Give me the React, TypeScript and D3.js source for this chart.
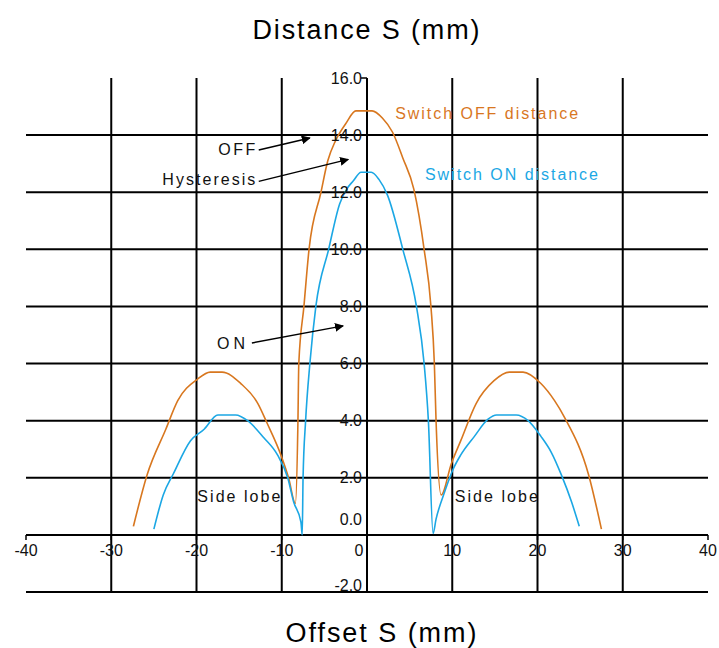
import React from "react";
import * as d3 from "d3";

// ---- data ----
const offOffset = [-27.4,-25.8,-23.6,-22.2,-19.9,-18.4,-17.0,-14.8,-12.8,-11.7,-10.1,-9.2,-8.4,-8.1,-8.0,-7.4,-6.8,-5.4,-4.6,-3.7,-2.5,-1.3,0.6,1.8,3.0,4.2,5.5,6.7,7.5,7.9,8.1,8.7,9.9,11.0,12.8,14.9,16.7,18.3,20.4,22.0,23.2,26.0,27.5];
const offDist =   [0.3,2.1,3.7,4.7,5.45,5.7,5.7,5.3,4.6,3.9,2.8,2.0,1.1,4.0,6.0,8.0,10.0,12.0,13.1,13.8,14.4,14.85,14.85,14.6,14.1,13.2,12.1,10.0,8.0,6.0,4.0,1.4,2.5,3.3,4.6,5.4,5.7,5.7,5.3,4.7,4.1,2.1,0.2];

const onOffset = [-25.0,-23.9,-22.7,-20.7,-19.1,-17.5,-15.4,-14.0,-12.1,-10.5,-9.3,-8.6,-7.75,-7.6,-7.5,-7.2,-6.7,-6.0,-4.5,-3.2,-2.4,-1.6,-0.7,0.5,1.4,2.4,4.2,5.8,6.7,7.2,7.75,8.1,9.1,10.1,11.0,12.6,14.2,15.2,17.5,18.9,20.4,21.6,22.8,24.0,24.9];
const onDist =   [0.2,1.4,2.15,3.3,3.7,4.2,4.2,4.0,3.4,2.8,2.0,1.15,0.45,0.0,2.0,4.0,6.0,8.0,10.0,11.6,12.1,12.4,12.7,12.7,12.45,11.9,10.0,8.0,6.0,4.0,0.05,0.55,1.5,2.3,2.8,3.45,4.05,4.2,4.2,4.0,3.45,2.9,2.1,1.15,0.3];

const xTicks = [-40,-30,-20,-10,0,10,20,30,40];
const yTicks = [16,14,12,10,8,6,4,2,0,-2];
const yTickLabels = ["16.0","14.0","12.0","10.0","8.0","6.0","4.0","2.0","0.0","-2.0"];

const annotations = [
  { label: "OFF", tx: -13.1, ty: 13.5, x0: -12.7, y0: 13.48, x1: -6.7, y1: 13.9, w: 37 },
  { label: "Hysteresis", tx: -13.1, ty: 12.45, x0: -12.7, y0: 12.38, x1: -2.2, y1: 13.15, w: 93 },
  { label: "ON", tx: -14.3, ty: 6.72, x0: -13.5, y0: 6.72, x1: -2.8, y1: 7.32, w: 28 },
];
const sideLobes = [
  { label: "Side lobe", x: -19.9, y: 1.35 },
  { label: "Side lobe", x: 10.3, y: 1.35 },
];
const seriesLabels = [
  { label: "Switch OFF distance", x: 3.3, y: 14.75, color: "#D8771F", w: 183 },
  { label: "Switch ON distance", x: 6.8, y: 12.62, color: "#1BA7E4", w: 173 },
];

const W = 719, H = 648;
const ORANGE = "#D8771F";
const BLUE = "#1BA7E4";
const FONT = "'Liberation Sans', Arial, sans-serif";

export default function App() {
  const x = d3.scaleLinear().domain([-40, 40]).range([26, 708]);
  const y = d3.scaleLinear().domain([-2, 16]).range([592, 78]);
  const line = d3.line<[number, number]>().x(d => x(d[0])).y(d => y(d[1])).curve(d3.curveMonotoneX);
  const offPts = offOffset.map((v, i) => [v, offDist[i]] as [number, number]);
  const onPts = onOffset.map((v, i) => [v, onDist[i]] as [number, number]);

  return (
    <svg width={W} height={H} style={{ position: "absolute", left: 0, top: 0, background: "#fff" }} fontFamily={FONT}>
      <defs>
        <marker id="arr" viewBox="0 0 10 10" refX="9" refY="5" markerWidth="6" markerHeight="6" orient="auto">
          <path d="M0,0 L10,5 L0,10 z" fill="#000" />
        </marker>
      </defs>
      <rect width={W} height={H} fill="#fff" />
      {/* horizontal grid */}
      {yTicks.filter(t => t !== 16).map(t => (
        <line key={"h" + t} x1={x(-40)} x2={x(40)} y1={y(t)} y2={y(t)} stroke="#000" strokeWidth={2} />
      ))}
      {/* vertical grid */}
      {xTicks.filter(t => t !== -40 && t !== 40).map(t => (
        <line key={"v" + t} x1={x(t)} x2={x(t)} y1={y(16)} y2={y(-2)} stroke="#000" strokeWidth={2} />
      ))}
      {/* ticks */}
      {xTicks.map(t => (
        <line key={"xt" + t} x1={x(t)} x2={x(t)} y1={y(0)} y2={y(0) + 5} stroke="#000" strokeWidth={1.5} />
      ))}
      <line x1={x(0) - 6} x2={x(0)} y1={y(16)} y2={y(16)} stroke="#000" strokeWidth={1.5} />
      {/* curves */}
      <path d={line(offPts) || ""} fill="none" stroke={ORANGE} strokeWidth={1.6} />
      <path d={line(onPts) || ""} fill="none" stroke={BLUE} strokeWidth={1.6} />
      {/* y labels */}
      {yTicks.map((t, i) => (
        <text key={"yl" + t} x={x(0) - 5} y={y(t) + (t === 0 ? -15 : t === -2 ? -7 : 0)} dy="0.35em"
          textAnchor="end" fontSize={16} fill="#111">{yTickLabels[i]}</text>
      ))}
      {/* x labels */}
      {xTicks.map(t => (
        <text key={"xl" + t} x={x(t) + (t === 0 ? -8 : 0)} y={550} dy="0.35em" textAnchor="middle"
          fontSize={16} fill="#111">{t < 0 ? "-" + Math.abs(t) : String(t)}</text>
      ))}
      {/* annotations */}
      {annotations.map(a => (
        <g key={a.label}>
          <text x={x(a.tx)} y={y(a.ty)} dy="0.35em" textAnchor="end" fontSize={16} fill="#111"
            textLength={a.w} lengthAdjust="spacing">{a.label}</text>
          <line x1={x(a.x0)} y1={y(a.y0)} x2={x(a.x1)} y2={y(a.y1)} stroke="#000" strokeWidth={1.5} markerEnd="url(#arr)" />
        </g>
      ))}
      {sideLobes.map((s, i) => (
        <text key={"sl" + i} x={x(s.x)} y={y(s.y)} dy="0.35em" fontSize={16} fill="#111"
          textLength={83} lengthAdjust="spacing">{s.label}</text>
      ))}
      {seriesLabels.map(s => (
        <text key={s.label} x={x(s.x)} y={y(s.y)} dy="0.35em" fontSize={16} fill={s.color}
          textLength={s.w} lengthAdjust="spacing">{s.label}</text>
      ))}
      {/* titles */}
      <text x={366} y={30} dy="0.35em" textAnchor="middle" fontSize={27} fill="#000"
        textLength={227} lengthAdjust="spacing">Distance S (mm)</text>
      <text x={381} y={633} dy="0.35em" textAnchor="middle" fontSize={27} fill="#000"
        textLength={191} lengthAdjust="spacing">Offset S (mm)</text>
    </svg>
  );
}
